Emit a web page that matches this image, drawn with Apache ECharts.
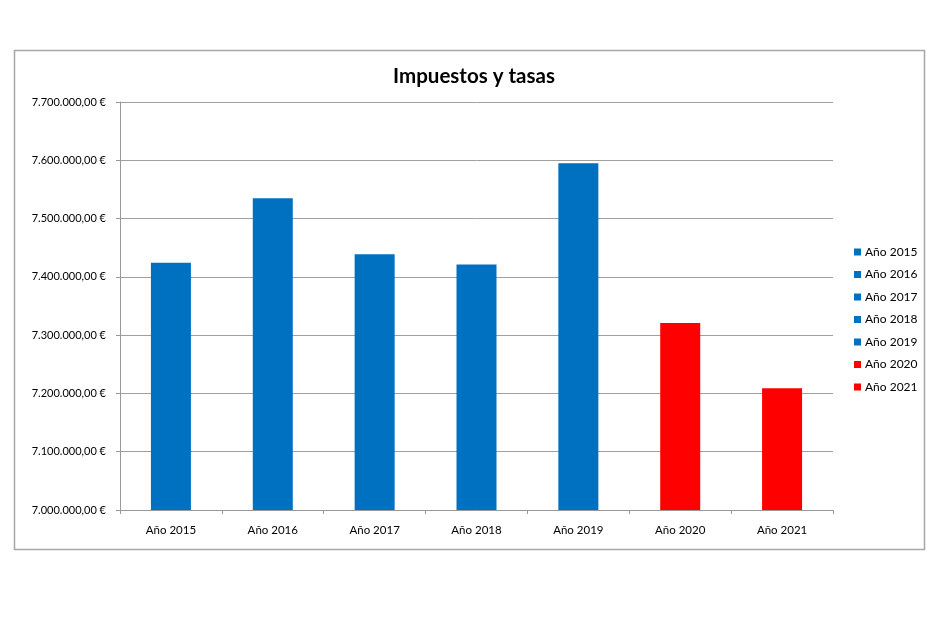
<!DOCTYPE html>
<html>
<head>
<meta charset="utf-8">
<script src="https://cdn.jsdelivr.net/npm/echarts@6/dist/echarts.min.js"></script>
<style>
  html, body { margin: 0; padding: 0; background: #fff; }
  #chart { width: 950px; height: 634px; }
</style>
</head>
<body>
<div id="chart"></div>
<script>
// categorias y valores
var years = ["Año 2015", "Año 2016", "Año 2017", "Año 2018", "Año 2019", "Año 2020", "Año 2021"];
var amounts = [7424000, 7535000, 7439000, 7421000, 7595000, 7321000, 7209000];
var barColors = ["#0070C0", "#0070C0", "#0070C0", "#0070C0", "#0070C0", "#FF0000", "#FF0000"];
var yTicks = { min: 7000000, max: 7700000, interval: 100000 };

function euro(v) {
  var s = Math.round(v).toString().replace(/\B(?=(\d{3})+(?!\d))/g, ".");
  return s + ",00 €";
}

var font = "Lato, 'Open Sans', sans-serif";

// una serie por año, solapadas en la misma posicion
var series = years.map(function (name, i) {
  return {
    name: name,
    type: "bar",
    barWidth: 40,
    barGap: "-100%",
    itemStyle: { color: barColors[i] },
    data: years.map(function (_, j) { return j === i ? amounts[j] : "-"; })
  };
});

var chart = echarts.init(document.getElementById("chart"));
chart.setOption({
  animation: false,
  backgroundColor: "#fff",
  title: {
    text: "Impuestos y tasas",
    left: 469,
    textAlign: "center",
    top: 61,
    textStyle: { fontFamily: font, fontSize: 20.5, fontWeight: "bold", color: "#000" }
  },
  graphic: [{
    type: "rect",
    shape: { x: 14.5, y: 50.5, width: 910, height: 499 },
    style: { fill: null, stroke: "#a6a6a6", lineWidth: 1.5 },
    silent: true
  }],
  legend: {
    orient: "vertical",
    left: 849,
    top: 241,
    itemWidth: 7,
    itemHeight: 7,
    itemGap: 10.5,
    icon: "rect",
    textStyle: { fontFamily: font, fontSize: 12, color: "#000", padding: [0, 0, 0, -1] },
    data: years
  },
  grid: { left: 120, right: 117, top: 102, bottom: 124 },
  xAxis: {
    type: "category",
    data: years,
    axisLine: { lineStyle: { color: "#999", width: 1 } },
    axisTick: { show: true, length: 4, lineStyle: { color: "#999" } },
    axisLabel: { fontFamily: font, fontSize: 11.5, color: "#000", margin: 14 }
  },
  yAxis: {
    type: "value",
    min: yTicks.min,
    max: yTicks.max,
    interval: yTicks.interval,
    axisLine: { show: true, lineStyle: { color: "#999", width: 1 } },
    axisTick: { show: true, length: 4, lineStyle: { color: "#999" } },
    splitLine: { lineStyle: { color: "#a0a0a0", width: 1 } },
    axisLabel: { fontFamily: font, fontSize: 11, color: "#000", margin: 14, formatter: euro }
  },
  series: series
});
</script>
</body>
</html>
